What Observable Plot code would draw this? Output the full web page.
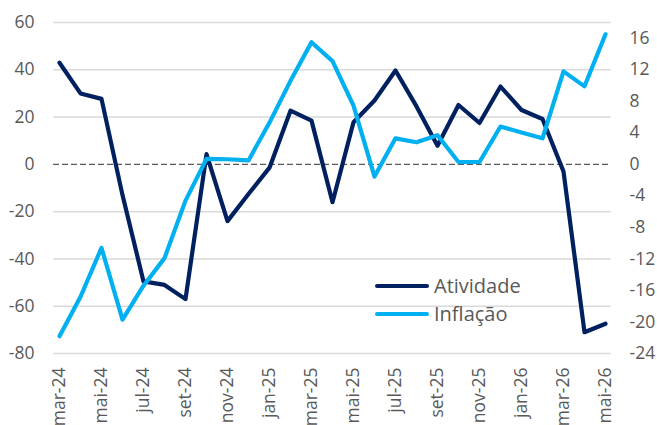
<!DOCTYPE html>
<html><head><meta charset="utf-8">
<script src="https://cdn.jsdelivr.net/npm/d3@7"></script>
<script src="https://cdn.jsdelivr.net/npm/@observablehq/plot@0.6"></script>
<style>
body{margin:0;background:#fff;font-family:"Open Sans",sans-serif;}
#wrap{position:relative;width:657px;height:425px;}
#legend{position:absolute;left:375px;top:272px;font-size:20px;color:#595959;line-height:28px;font-family:"Open Sans",sans-serif;}
.item{display:flex;align-items:center;height:28px;}
.sw{width:54px;height:4.2px;border-radius:2px;margin-right:5px;}
</style></head><body><div id="wrap"><div id="legend"></div></div>
<script>
const months = ["mar-24","abr-24","mai-24","jun-24","jul-24","ago-24","set-24","out-24","nov-24","dez-24","jan-25","fev-25","mar-25","abr-25","mai-25","jun-25","jul-25","ago-25","set-25","out-25","nov-25","dez-25","jan-26","fev-26","mar-26","abr-26","mai-26"];
const atividade = [43, 30, 27.7, -13, -49.5, -51, -57, 4.3, -24, -12.5, -1.4, 22.7, 18.5, -16, 17.8, 27, 39.7, 24.5, 7.9, 25.1, 17.5, 32.9, 23, 19.2, -3, -71, -67.4];
const inflacao = [-21.8, -16.8, -10.6, -19.7, -15.4, -11.9, -4.6, 0.7, 0.65, 0.5, 5.3, 10.6, 15.5, 13.1, 7.45, -1.55, 3.3, 2.8, 3.7, 0.3, 0.3, 4.8, 4.05, 3.3, 11.8, 9.9, 16.5];
const leftTicks = [-80, -60, -40, -20, 0, 20, 40, 60];
const rightTicks = [-24, -20, -16, -12, -8, -4, 0, 4, 8, 12, 16];
const xTicks = months.filter((d, i) => i % 2 === 0);
const seriesNames = ["Atividade", "Inflação"];
const colors = ["#002060", "#00b0f0"];
const ratio = 80 / 24;

const data = months.map((m, i) => ({month: m, a: atividade[i], inf: inflacao[i]}));
const fmt = v => (v < 0 ? "-" : "") + Math.abs(v);

const chart = Plot.plot({
  width: 657,
  height: 425,
  marginLeft: 53,
  marginRight: 46,
  marginTop: 22,
  marginBottom: 72,
  style: {fontFamily: "Open Sans", fontSize: "17.5px", color: "#595959", background: "#fff"},
  x: {type: "point", domain: months, padding: 0},
  y: {domain: [-80, 60]},
  marks: [
    Plot.ruleY(leftTicks.filter(d => d !== 0), {stroke: "#d9d9d9", strokeWidth: 1.5, strokeOpacity: 1}),
    Plot.ruleY([0], {stroke: "#595959", strokeWidth: 1.4, strokeDasharray: "6,3"}),
    Plot.axisY(leftTicks, {anchor: "left", tickSize: 0, tickPadding: 19, tickFormat: fmt, label: null}),
    Plot.axisY(rightTicks.map(r => r * ratio), {anchor: "right", tickSize: 0, tickPadding: 18, tickFormat: d => fmt(Math.round(d / ratio)), label: null}),
    Plot.axisX(xTicks, {tickRotate: -90, tickSize: 0, tickPadding: 14, label: null}),
    Plot.line(data, {x: "month", y: "a", stroke: colors[0], strokeWidth: 4.2}),
    Plot.line(data, {x: "month", y: d => d.inf * ratio, stroke: colors[1], strokeWidth: 4.2})
  ]
});
const wrap = document.getElementById("wrap");
wrap.insertBefore(chart, wrap.firstChild);
const legend = document.getElementById("legend");
seriesNames.forEach((n, i) => {
  const it = document.createElement("div");
  it.className = "item";
  it.innerHTML = `<span class="sw" style="background:${colors[i]}"></span><span>${n}</span>`;
  legend.appendChild(it);
});
</script>
</body></html>
